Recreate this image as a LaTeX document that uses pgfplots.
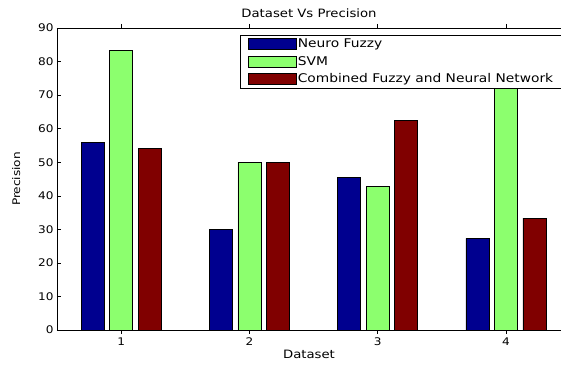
\documentclass[border=0pt]{standalone}
\usepackage{fontspec}
\setmainfont{DejaVu Sans}[FakeStretch=1.15]
\usepackage{pgfplots}
\pgfplotsset{compat=1.18}
\definecolor{nfblue}{RGB}{0,0,143}
\definecolor{svmgreen}{RGB}{140,255,110}
\definecolor{cfred}{RGB}{128,0,0}
\begin{document}
\begin{tikzpicture}
\begin{axis}[
  scale only axis,
  width=504pt, height=302pt,
  xmin=0.5, xmax=4.43,
  ymin=0, ymax=90,
  axis x line=box,
  axis y line*=left,
  y axis line style={-},
  xtick={1,2,3,4},
  ytick={0,10,...,90},
  tick align=inside,
  major tick length=4pt,
  tick style={black, line width=0.5pt},
  /pgf/number format/assume math mode=true,
  ticklabel style={font=\fontsize{10.5}{12}\selectfont},
  title={Dataset Vs Precision},
  title style={font=\fontsize{11.5}{13}\selectfont, yshift=1pt},
  xlabel={Dataset},
  ylabel={Precision},
  xlabel style={font=\fontsize{11.5}{13}\selectfont, yshift=2pt},
  ylabel style={font=\fontsize{10.5}{12}\selectfont, yshift=11pt},
  ybar,
  bar width=23pt,
  every axis plot/.append style={draw=black, line width=0.6pt},
  legend style={at={(rel axis cs:0.364,0.977)}, anchor=north west,
    draw=black, line width=0.6pt, font=\fontsize{12}{14}\selectfont,
    inner sep=2pt, row sep=4.2pt,
    nodes={inner sep=1.5pt}, cells={anchor=west}},
  legend image code/.code={\path (0pt,0pt); \draw[#1] (5pt,-5.5pt) rectangle (53pt,5.5pt);},
  legend cell align=left,
]
\addplot[fill=nfblue, bar shift=-28.5pt] coordinates {(1,55.8) (2,30) (3,45.5) (4,27.3)};
\addplot[fill=svmgreen, bar shift=0pt] coordinates {(1,83.3) (2,50) (3,42.9) (4,80)};
\addplot[fill=cfred, bar shift=28.5pt] coordinates {(1,54) (2,50) (3,62.5) (4,33.3)};
\legend{Neuro Fuzzy, SVM, Combined Fuzzy and Neural Network\hspace*{8pt}}
\end{axis}
\pgfresetboundingbox
\useasboundingbox ([xshift=-57pt,yshift=-38pt]current axis.south west) rectangle ([yshift=28pt]current axis.north east);
\end{tikzpicture}
\end{document}
